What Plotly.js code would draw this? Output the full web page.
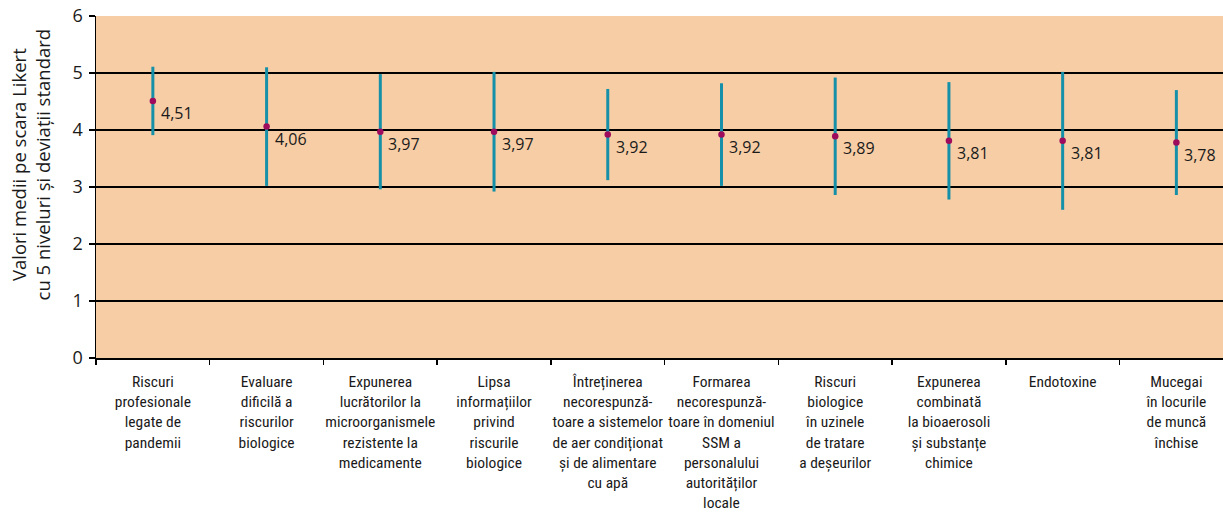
<!DOCTYPE html>
<html>
<head>
<meta charset="utf-8">
<script src="https://cdn.plot.ly/plotly-3.0.1.min.js"></script>
<style>html,body{margin:0;padding:0;background:#fff;}#chart{width:1223px;height:522px;}</style>
</head>
<body>
<div id="chart"></div>
<script>
const categories = [
  "Riscuri<br>profesionale<br>legate de<br>pandemii",
  "Evaluare<br>dificilă a<br>riscurilor<br>biologice",
  "Expunerea<br>lucrătorilor la<br>microorganismele<br>rezistente la<br>medicamente",
  "Lipsa<br>informațiilor<br>privind<br>riscurile<br>biologice",
  "Întreținerea<br>necorespunză-<br>toare a sistemelor<br>de aer condiționat<br>și de alimentare<br>cu apă",
  "Formarea<br>necorespunză-<br>toare în domeniul<br>SSM a<br>personalului<br>autorităților<br>locale",
  "Riscuri<br>biologice<br>în uzinele<br>de tratare<br>a deșeurilor",
  "Expunerea<br>combinată<br>la bioaerosoli<br>și substanțe<br>chimice",
  "Endotoxine",
  "Mucegai<br>în locurile<br>de muncă<br>închise"
];
const means = [4.51, 4.06, 3.97, 3.97, 3.92, 3.92, 3.89, 3.81, 3.81, 3.78];
const stdDevs = [0.60, 1.04, 1.01, 1.05, 0.80, 0.90, 1.03, 1.03, 1.21, 0.92];
const valueLabels = ["4,51", "4,06", "3,97", "3,97", "3,92", "3,92", "3,89", "3,81", "3,81", "3,78"];
const yTitle = "Valori medii pe scara Likert<br>cu 5 niveluri și deviații standard";

const catFont = "'Liberation Sans Narrow', 'Roboto Condensed', 'Arial Narrow', 'Noto Sans', sans-serif";
const numFont = "'Open Sans', 'Noto Sans', sans-serif";

const trace = {
  type: "scatter",
  mode: "markers",
  x: categories,
  y: means,
  error_y: { type: "data", array: stdDevs, visible: true, color: "#1590A8", thickness: 3, width: 0 },
  marker: { color: "#9E0B5C", size: 6.5, symbol: "circle" },
  hoverinfo: "x+y",
  showlegend: false
};

const annotations = categories.map((c, i) => ({
  x: c, y: means[i], xref: "x", yref: "y",
  text: valueLabels[i], showarrow: false,
  xanchor: "left", yanchor: "middle", xshift: 6, yshift: -12,
  font: { family: numFont, size: 16, color: "#1a1a1a" }
}));
annotations.push({
  text: yTitle, xref: "paper", yref: "paper", x: -0.058, y: 0.565,
  xanchor: "center", yanchor: "middle", textangle: -90, showarrow: false,
  font: { family: numFont, size: 18.5, color: "#1a1a1a" }
});

const layout = {
  width: 1223, height: 522,
  margin: { l: 96, r: 0, t: 16, b: 164, pad: 0 },
  paper_bgcolor: "#ffffff",
  plot_bgcolor: "#F6CDA5",
  font: { family: numFont, color: "#1a1a1a" },
  xaxis: {
    type: "category",
    range: [-0.5, 9.41],
    tickson: "boundaries",
    ticks: "outside", ticklen: 5, tickwidth: 1.5, tickcolor: "#000",
    showline: true, linecolor: "#000", linewidth: 1.5,
    showgrid: false, zeroline: false,
    tickangle: 0,
    tickfont: { family: catFont, size: 15.5, color: "#1a1a1a" },
    ticklabelstandoff: 9,
    fixedrange: true
  },
  yaxis: {
    range: [0, 6], dtick: 1, tick0: 0,
    ticks: "outside", ticklen: 6, tickwidth: 1.5, tickcolor: "#000",
    showline: true, linecolor: "#000", linewidth: 1.5,
    showgrid: true, gridcolor: "#000", gridwidth: 1.5,
    zeroline: false,
    tickfont: { family: numFont, size: 18, color: "#1a1a1a" },
    ticklabelstandoff: 2,
    fixedrange: true
  },
  annotations: annotations
};

Plotly.newPlot("chart", [trace], layout, { displayModeBar: false, staticPlot: true });
</script>
</body>
</html>
